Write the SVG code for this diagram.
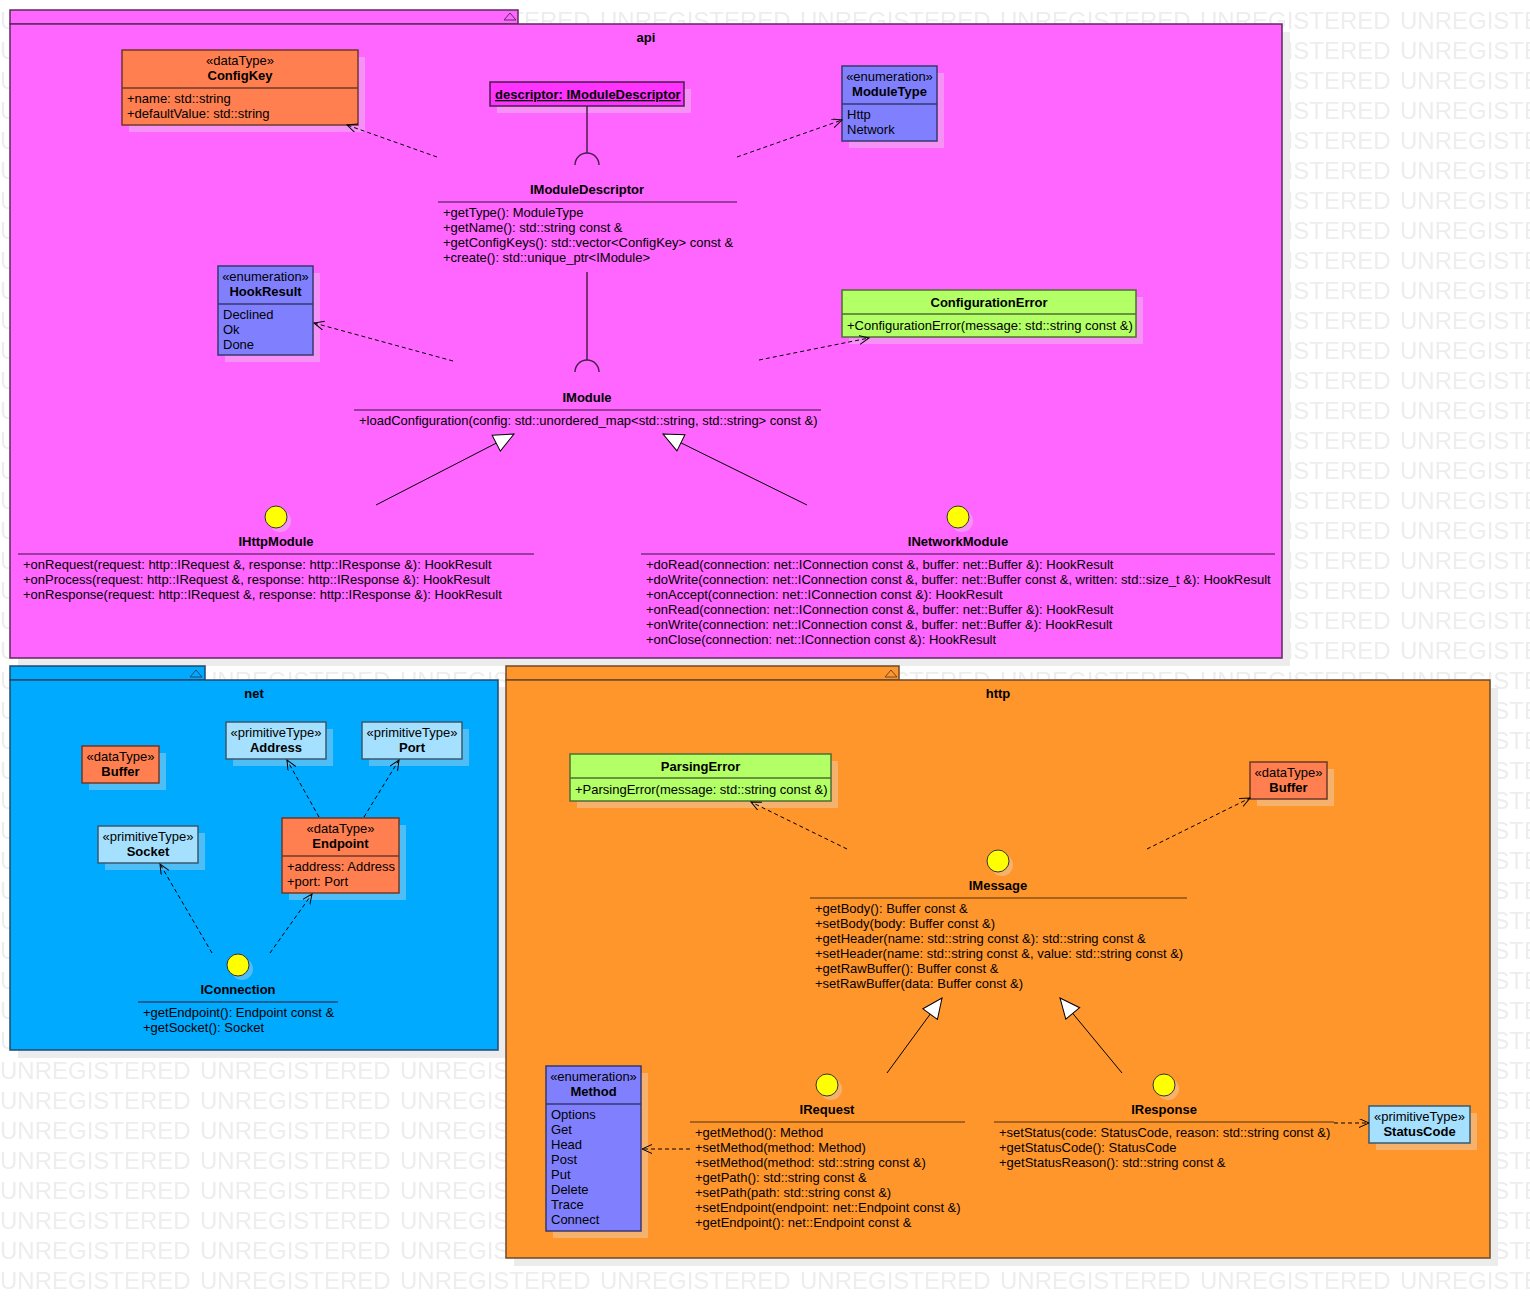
<svg xmlns="http://www.w3.org/2000/svg" width="1530" height="1298" viewBox="0 0 1530 1298">
<defs>
<pattern id="wm" patternUnits="userSpaceOnUse" x="0" y="0" width="200" height="30">
<text x="0" y="29" style="font-family:'Liberation Sans',Arial,sans-serif;font-size:24px;fill:#ededed">UNREGISTERED</text>
</pattern>
<marker id="open" markerUnits="userSpaceOnUse" markerWidth="12" markerHeight="10" refX="10" refY="4.5" orient="auto">
<path d="M0,0 L10,4.5 L0,9" fill="none" stroke="#000" stroke-width="1"/>
</marker>
<marker id="tri" markerUnits="userSpaceOnUse" markerWidth="24" markerHeight="22" refX="21" refY="10" orient="auto">
<path d="M1,1 L21,10 L1,19 Z" fill="#fff" stroke="#000" stroke-width="1"/>
</marker>
</defs>
<style>
.t{font-family:"Liberation Sans",Arial,sans-serif;font-size:13px;fill:#000}
.b{font-weight:bold}
.c{text-anchor:middle}
.sh{fill:#e4e4e4;opacity:.35}
.psh{fill:#ececec}
.dep{stroke:#000;stroke-width:1;stroke-dasharray:4 3;fill:none;marker-end:url(#open)}
.gen{stroke:#000;stroke-width:1;fill:none;marker-end:url(#tri)}
.coral{fill:#ff7f50;stroke:#6e3a28;stroke-width:1.5}
.enum{fill:#8080ff;stroke:#38386e;stroke-width:1.5}
.prim{fill:#a6e0ff;stroke:#3a5a6e;stroke-width:1.5}
.green{fill:#b3ff66;stroke:#4f6e33;stroke-width:1.5}
.ball{fill:#ffff00;stroke:#333;stroke-width:1}
</style>
<rect x="0" y="0" width="1530" height="1298" fill="#fff"/>
<rect x="0" y="0" width="1530" height="1298" fill="url(#wm)"/>

<!-- packages -->
<g id="pkg-api">
<rect class="psh" x="18" y="32" width="1272" height="634"/>
<rect x="10" y="10" width="508" height="14" fill="#ff66ff" stroke="#5e2a5e" stroke-width="1.5"/>
<path d="M504,20 L510,13 L516,20 Z" fill="none" stroke="#5e2a5e" stroke-width="1"/>
<rect x="10" y="24" width="1272" height="634" fill="#ff66ff" stroke="#5e2a5e" stroke-width="1.5"/>
<text class="t b c" x="646" y="42">api</text>
</g>
<g id="pkg-net">
<rect class="psh" x="18" y="688" width="488" height="370"/>
<rect x="10" y="666" width="195" height="14" fill="#00aaff" stroke="#1f4a6e" stroke-width="1.5"/>
<path d="M190,677 L196,670 L202,677 Z" fill="none" stroke="#1f4a6e" stroke-width="1"/>
<rect x="10" y="680" width="488" height="370" fill="#00aaff" stroke="#1f4a6e" stroke-width="1.5"/>
<text class="t b c" x="254" y="698">net</text>
</g>
<g id="pkg-http">
<rect class="psh" x="514" y="688" width="984" height="578"/>
<rect x="506" y="666" width="393" height="14" fill="#ff962c" stroke="#6b4a2a" stroke-width="1.5"/>
<path d="M885,677 L891,670 L897,677 Z" fill="none" stroke="#6b4a2a" stroke-width="1"/>
<rect x="506" y="680" width="984" height="578" fill="#ff962c" stroke="#6b4a2a" stroke-width="1.5"/>
<text class="t b c" x="998" y="698">http</text>
</g>

<!-- api nodes -->
<g id="ConfigKey">
<rect class="sh" x="129" y="57" width="236" height="75"/>
<rect class="coral" x="122" y="50" width="236" height="75"/>
<line x1="122" y1="88" x2="358" y2="88" stroke="#6e3a28" stroke-width="1.5"/>
<text class="t c" x="240" y="65">«dataType»</text>
<text class="t b c" x="240" y="80">ConfigKey</text>
<text class="t" x="127" y="103">+name: std::string</text>
<text class="t" x="127" y="118">+defaultValue: std::string</text>
</g>
<g id="descriptor">
<rect class="sh" x="497" y="89" width="194" height="24"/>
<rect x="490" y="82" width="194" height="24" fill="#ff33ff" stroke="#4a1f4a" stroke-width="1.5"/>
<text class="t b" x="495" y="99" text-decoration="underline">descriptor: IModuleDescriptor</text>
</g>
<g id="ModuleType">
<rect class="sh" x="849" y="73" width="95" height="75"/>
<rect class="enum" x="842" y="66" width="95" height="75"/>
<line x1="842" y1="104" x2="937" y2="104" stroke="#38386e" stroke-width="1.5"/>
<text class="t c" x="889.5" y="81">«enumeration»</text>
<text class="t b c" x="889.5" y="96">ModuleType</text>
<text class="t" x="847" y="119">Http</text>
<text class="t" x="847" y="134">Network</text>
</g>
<g id="IModuleDescriptor">
<text class="t b c" x="587" y="194">IModuleDescriptor</text>
<line x1="438" y1="202" x2="737" y2="202" stroke="#7a2e7a" stroke-width="1.5"/>
<text class="t" x="443" y="217">+getType(): ModuleType</text>
<text class="t" x="443" y="232">+getName(): std::string const &amp;</text>
<text class="t" x="443" y="247">+getConfigKeys(): std::vector&lt;ConfigKey&gt; const &amp;</text>
<text class="t" x="443" y="262">+create(): std::unique_ptr&lt;IModule&gt;</text>
</g>
<g id="HookResult">
<rect class="sh" x="225" y="273" width="95" height="89"/>
<rect class="enum" x="218" y="266" width="95" height="89"/>
<line x1="218" y1="304" x2="313" y2="304" stroke="#38386e" stroke-width="1.5"/>
<text class="t c" x="265.5" y="281">«enumeration»</text>
<text class="t b c" x="265.5" y="296">HookResult</text>
<text class="t" x="223" y="319">Declined</text>
<text class="t" x="223" y="334">Ok</text>
<text class="t" x="223" y="349">Done</text>
</g>
<g id="ConfigurationError">
<rect class="sh" x="849" y="297" width="294" height="47"/>
<rect class="green" x="842" y="290" width="294" height="47"/>
<line x1="842" y1="314" x2="1136" y2="314" stroke="#4f6e33" stroke-width="1.5"/>
<text class="t b c" x="989" y="307">ConfigurationError</text>
<text class="t" x="847" y="330">+ConfigurationError(message: std::string const &amp;)</text>
</g>
<g id="IModule">
<text class="t b c" x="587" y="402">IModule</text>
<line x1="354" y1="410" x2="821" y2="410" stroke="#7a2e7a" stroke-width="1.5"/>
<text class="t" x="359" y="425">+loadConfiguration(config: std::unordered_map&lt;std::string, std::string&gt; const &amp;)</text>
</g>
<g id="IHttpModule">
<circle class="sh" cx="280" cy="521" r="11"/>
<circle class="ball" cx="276" cy="517" r="11"/>
<text class="t b c" x="276" y="546">IHttpModule</text>
<line x1="18" y1="554" x2="534" y2="554" stroke="#7a2e7a" stroke-width="1.5"/>
<text class="t" x="23" y="569">+onRequest(request: http::IRequest &amp;, response: http::IResponse &amp;): HookResult</text>
<text class="t" x="23" y="584">+onProcess(request: http::IRequest &amp;, response: http::IResponse &amp;): HookResult</text>
<text class="t" x="23" y="599">+onResponse(request: http::IRequest &amp;, response: http::IResponse &amp;): HookResult</text>
</g>
<g id="INetworkModule">
<circle class="sh" cx="962" cy="521" r="11"/>
<circle class="ball" cx="958" cy="517" r="11"/>
<text class="t b c" x="958" y="546">INetworkModule</text>
<line x1="641" y1="554" x2="1275" y2="554" stroke="#7a2e7a" stroke-width="1.5"/>
<text class="t" x="646" y="569">+doRead(connection: net::IConnection const &amp;, buffer: net::Buffer &amp;): HookResult</text>
<text class="t" x="646" y="584">+doWrite(connection: net::IConnection const &amp;, buffer: net::Buffer const &amp;, written: std::size_t &amp;): HookResult</text>
<text class="t" x="646" y="599">+onAccept(connection: net::IConnection const &amp;): HookResult</text>
<text class="t" x="646" y="614">+onRead(connection: net::IConnection const &amp;, buffer: net::Buffer &amp;): HookResult</text>
<text class="t" x="646" y="629">+onWrite(connection: net::IConnection const &amp;, buffer: net::Buffer &amp;): HookResult</text>
<text class="t" x="646" y="644">+onClose(connection: net::IConnection const &amp;): HookResult</text>
</g>

<!-- net nodes -->
<g id="net-Buffer">
<rect class="sh" x="89" y="753" width="77" height="37"/>
<rect class="coral" x="82" y="746" width="77" height="37"/>
<text class="t c" x="120.5" y="761">«dataType»</text>
<text class="t b c" x="120.5" y="776">Buffer</text>
</g>
<g id="Address">
<rect class="sh" x="233" y="729" width="100" height="37"/>
<rect class="prim" x="226" y="722" width="100" height="37"/>
<text class="t c" x="276" y="737">«primitiveType»</text>
<text class="t b c" x="276" y="752">Address</text>
</g>
<g id="Port">
<rect class="sh" x="369" y="729" width="100" height="37"/>
<rect class="prim" x="362" y="722" width="100" height="37"/>
<text class="t c" x="412" y="737">«primitiveType»</text>
<text class="t b c" x="412" y="752">Port</text>
</g>
<g id="Socket">
<rect class="sh" x="105" y="833" width="100" height="37"/>
<rect class="prim" x="98" y="826" width="100" height="37"/>
<text class="t c" x="148" y="841">«primitiveType»</text>
<text class="t b c" x="148" y="856">Socket</text>
</g>
<g id="Endpoint">
<rect class="sh" x="289" y="825" width="117" height="75"/>
<rect class="coral" x="282" y="818" width="117" height="75"/>
<line x1="282" y1="856" x2="399" y2="856" stroke="#6e3a28" stroke-width="1.5"/>
<text class="t c" x="340.5" y="833">«dataType»</text>
<text class="t b c" x="340.5" y="848">Endpoint</text>
<text class="t" x="287" y="871">+address: Address</text>
<text class="t" x="287" y="886">+port: Port</text>
</g>
<g id="IConnection">
<circle class="sh" cx="242" cy="969" r="11"/>
<circle class="ball" cx="238" cy="965" r="11"/>
<text class="t b c" x="238" y="994">IConnection</text>
<line x1="138" y1="1002" x2="338" y2="1002" stroke="#1f4a6e" stroke-width="1.5"/>
<text class="t" x="143" y="1017">+getEndpoint(): Endpoint const &amp;</text>
<text class="t" x="143" y="1032">+getSocket(): Socket</text>
</g>

<!-- http nodes -->
<g id="ParsingError">
<rect class="sh" x="577" y="761" width="261" height="47"/>
<rect class="green" x="570" y="754" width="261" height="47"/>
<line x1="570" y1="778" x2="831" y2="778" stroke="#4f6e33" stroke-width="1.5"/>
<text class="t b c" x="700.5" y="771">ParsingError</text>
<text class="t" x="575" y="794">+ParsingError(message: std::string const &amp;)</text>
</g>
<g id="http-Buffer">
<rect class="sh" x="1257" y="769" width="77" height="37"/>
<rect class="coral" x="1250" y="762" width="77" height="37"/>
<text class="t c" x="1288.5" y="777">«dataType»</text>
<text class="t b c" x="1288.5" y="792">Buffer</text>
</g>
<g id="IMessage">
<circle class="sh" cx="1002" cy="865" r="11"/>
<circle class="ball" cx="998" cy="861" r="11"/>
<text class="t b c" x="998" y="890">IMessage</text>
<line x1="810" y1="898" x2="1187" y2="898" stroke="#8a5218" stroke-width="1.5"/>
<text class="t" x="815" y="913">+getBody(): Buffer const &amp;</text>
<text class="t" x="815" y="928">+setBody(body: Buffer const &amp;)</text>
<text class="t" x="815" y="943">+getHeader(name: std::string const &amp;): std::string const &amp;</text>
<text class="t" x="815" y="958">+setHeader(name: std::string const &amp;, value: std::string const &amp;)</text>
<text class="t" x="815" y="973">+getRawBuffer(): Buffer const &amp;</text>
<text class="t" x="815" y="988">+setRawBuffer(data: Buffer const &amp;)</text>
</g>
<g id="Method">
<rect class="sh" x="553" y="1073" width="95" height="165"/>
<rect class="enum" x="546" y="1066" width="95" height="165"/>
<line x1="546" y1="1104" x2="641" y2="1104" stroke="#38386e" stroke-width="1.5"/>
<text class="t c" x="593.5" y="1081">«enumeration»</text>
<text class="t b c" x="593.5" y="1096">Method</text>
<text class="t" x="551" y="1119">Options</text>
<text class="t" x="551" y="1134">Get</text>
<text class="t" x="551" y="1149">Head</text>
<text class="t" x="551" y="1164">Post</text>
<text class="t" x="551" y="1179">Put</text>
<text class="t" x="551" y="1194">Delete</text>
<text class="t" x="551" y="1209">Trace</text>
<text class="t" x="551" y="1224">Connect</text>
</g>
<g id="IRequest">
<circle class="sh" cx="831" cy="1089" r="11"/>
<circle class="ball" cx="827" cy="1085" r="11"/>
<text class="t b c" x="827" y="1114">IRequest</text>
<line x1="690" y1="1122" x2="965" y2="1122" stroke="#8a5218" stroke-width="1.5"/>
<text class="t" x="695" y="1137">+getMethod(): Method</text>
<text class="t" x="695" y="1152">+setMethod(method: Method)</text>
<text class="t" x="695" y="1167">+setMethod(method: std::string const &amp;)</text>
<text class="t" x="695" y="1182">+getPath(): std::string const &amp;</text>
<text class="t" x="695" y="1197">+setPath(path: std::string const &amp;)</text>
<text class="t" x="695" y="1212">+setEndpoint(endpoint: net::Endpoint const &amp;)</text>
<text class="t" x="695" y="1227">+getEndpoint(): net::Endpoint const &amp;</text>
</g>
<g id="IResponse">
<circle class="sh" cx="1168" cy="1089" r="11"/>
<circle class="ball" cx="1164" cy="1085" r="11"/>
<text class="t b c" x="1164" y="1114">IResponse</text>
<line x1="994" y1="1122" x2="1334" y2="1122" stroke="#8a5218" stroke-width="1.5"/>
<text class="t" x="999" y="1137">+setStatus(code: StatusCode, reason: std::string const &amp;)</text>
<text class="t" x="999" y="1152">+getStatusCode(): StatusCode</text>
<text class="t" x="999" y="1167">+getStatusReason(): std::string const &amp;</text>
</g>
<g id="StatusCode">
<rect class="sh" x="1376" y="1113" width="101" height="37"/>
<rect class="prim" x="1369" y="1106" width="101" height="37"/>
<text class="t c" x="1419.5" y="1121">«primitiveType»</text>
<text class="t b c" x="1419.5" y="1136">StatusCode</text>
</g>

<!-- connectors -->
<g id="connectors">
<line x1="587" y1="106" x2="587" y2="153" stroke="#4a1f4a" stroke-width="1.5"/>
<path d="M575,165 A12,12 0 0 1 599,165" fill="none" stroke="#4a1f4a" stroke-width="1.5"/>
<line x1="587" y1="272" x2="587" y2="360" stroke="#4a1f4a" stroke-width="1.5"/>
<path d="M575,372 A12,12 0 0 1 599,372" fill="none" stroke="#4a1f4a" stroke-width="1.5"/>
<line class="dep" x1="437" y1="157" x2="347" y2="125"/>
<line class="dep" x1="737" y1="157" x2="842" y2="120"/>
<line class="dep" x1="453" y1="361" x2="314" y2="323"/>
<line class="dep" x1="759" y1="360" x2="869" y2="338"/>
<line class="gen" x1="376" y1="505" x2="514" y2="434"/>
<line class="gen" x1="807" y1="505" x2="663" y2="434"/>
<line class="dep" x1="319" y1="817" x2="287" y2="760"/>
<line class="dep" x1="364" y1="817" x2="399" y2="760"/>
<line class="dep" x1="212" y1="953" x2="160" y2="864"/>
<line class="dep" x1="270" y1="953" x2="312" y2="894"/>
<line class="dep" x1="847" y1="849" x2="751" y2="802"/>
<line class="dep" x1="1147" y1="849" x2="1250" y2="798"/>
<line class="gen" x1="887" y1="1073" x2="942" y2="998"/>
<line class="gen" x1="1122" y1="1073" x2="1060" y2="998"/>
<line class="dep" x1="690" y1="1149" x2="642" y2="1149"/>
<line class="dep" x1="1334" y1="1123" x2="1369" y2="1123"/>
</g>
</svg>
